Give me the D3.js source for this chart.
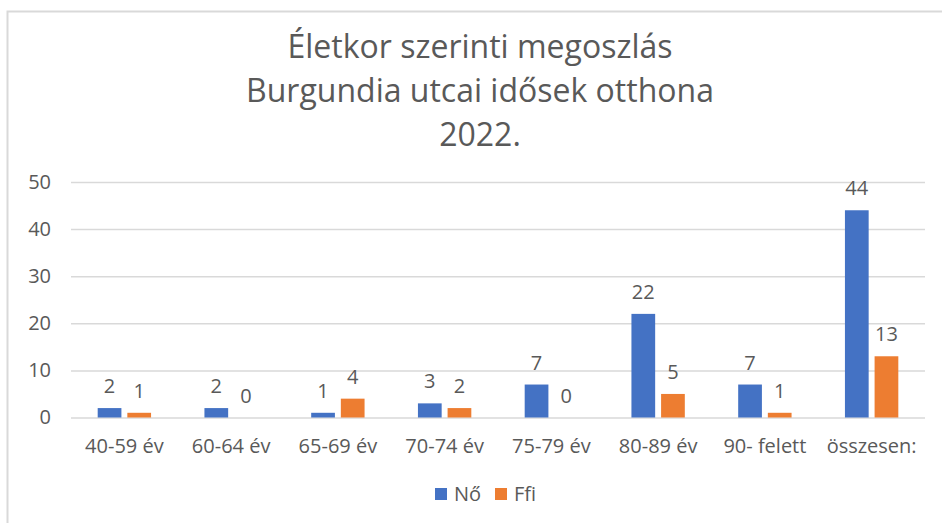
<!DOCTYPE html>
<html>
<head>
<meta charset="utf-8">
<script src="https://cdn.jsdelivr.net/npm/d3@7"></script>
<style>
    body { margin: 0; background: #fff; }
    text { font-family: "Open Sans", sans-serif; fill: #595959; }
</style>
</head>
<body>
<div class="chart"></div>
<script>
const width = 942
const height = 523
const margin = { top: 182, right: 17, bottom: 105, left: 71 }

// data
const categories = ["40-59 év", "60-64 év", "65-69 év", "70-74 év", "75-79 év", "80-89 év", "90- felett", "összesen:"]
const seriesNames = ["Nő", "Ffi"]
const noValues = [2, 2, 1, 3, 7, 22, 7, 44]
const ffiValues = [1, 0, 4, 2, 0, 5, 1, 13]
const yTicks = [0, 10, 20, 30, 40, 50]
const titleLines = ["Életkor szerinti megoszlás", "Burgundia utcai idősek otthona", "2022."]

const colorSeries = d3.scaleOrdinal().domain(seriesNames).range(["#4472c4", "#ed7d31"])

const rows = categories.map((c, i) => ({ cat: c, values: [
    { name: "Nő", value: noValues[i] },
    { name: "Ffi", value: ffiValues[i] }
] }))

const svg = d3.select(".chart")
    .append("svg")
    .attr("width", width)
    .attr("height", height)

// chart area frame
svg.append("rect")
    .attr("x", 7.5)
    .attr("y", 11.5)
    .attr("width", width + 20)
    .attr("height", height + 20)
    .attr("fill", "none")
    .attr("stroke", "#d9d9d9")
    .attr("stroke-width", 2)

// title
svg.append("g")
    .selectAll("text")
    .data(titleLines)
    .join("text")
    .attr("x", 480)
    .attr("y", (d, i) => 58 + i * 44)
    .attr("text-anchor", "middle")
    .attr("font-size", "32")
    .text(d => d)

const x0 = d3.scaleBand()
    .domain(categories)
    .range([margin.left, width - margin.right])
    .paddingInner(0.5)
    .paddingOuter(0.25)

const x1 = d3.scaleBand()
    .domain(seriesNames)
    .range([0, x0.bandwidth()])
    .paddingInner(0.2)

const y = d3.scaleLinear()
    .domain([0, 50])
    .range([height - margin.bottom - 0.5, margin.top])

// gridlines + y labels
const yAxis = d3.axisLeft(y)
    .tickValues(yTicks)
    .tickSize(-(width - margin.left - margin.right))
    .tickPadding(20)

const gy = svg.append("g")
    .attr("transform", `translate(${margin.left}, 0)`)
    .call(yAxis)
gy.select(".domain").remove()
gy.selectAll(".tick line").attr("stroke", "#d9d9d9").attr("stroke-width", 1.5)
gy.selectAll(".tick text").attr("font-size", "20").attr("fill", "#595959")

// x labels
const xAxis = d3.axisBottom(x0).tickSize(0).tickPadding(21)
const gx = svg.append("g")
    .attr("transform", `translate(0, ${y(0)})`)
    .call(xAxis)
gx.select(".domain").remove()
gx.selectAll(".tick text").attr("font-size", "20").attr("fill", "#595959")

// bars
const groups = svg.append("g")
    .selectAll("g")
    .data(rows)
    .join("g")
    .attr("transform", d => `translate(${x0(d.cat)}, 0)`)

groups.selectAll("rect")
    .data(d => d.values)
    .join("rect")
    .attr("x", d => x1(d.name))
    .attr("y", d => y(d.value))
    .attr("width", x1.bandwidth())
    .attr("height", d => y(0) - y(d.value))
    .attr("fill", d => colorSeries(d.name))

groups.selectAll("text")
    .data(d => d.values)
    .join("text")
    .attr("x", d => x1(d.name) + x1.bandwidth() / 2)
    .attr("y", d => y(d.value) - 15)
    .attr("text-anchor", "middle")
    .attr("font-size", "20")
    .text(d => d.value)

// legend
const legend = svg.append("g")
    .selectAll("g")
    .data(seriesNames)
    .join("g")
    .attr("transform", (d, i) => `translate(${435 + i * 60}, 488)`)

legend.append("rect")
    .attr("width", 12)
    .attr("height", 12)
    .attr("fill", d => colorSeries(d))

legend.append("text")
    .attr("x", 19)
    .attr("y", 13)
    .attr("font-size", "20")
    .text(d => d)
</script>
</body>
</html>
